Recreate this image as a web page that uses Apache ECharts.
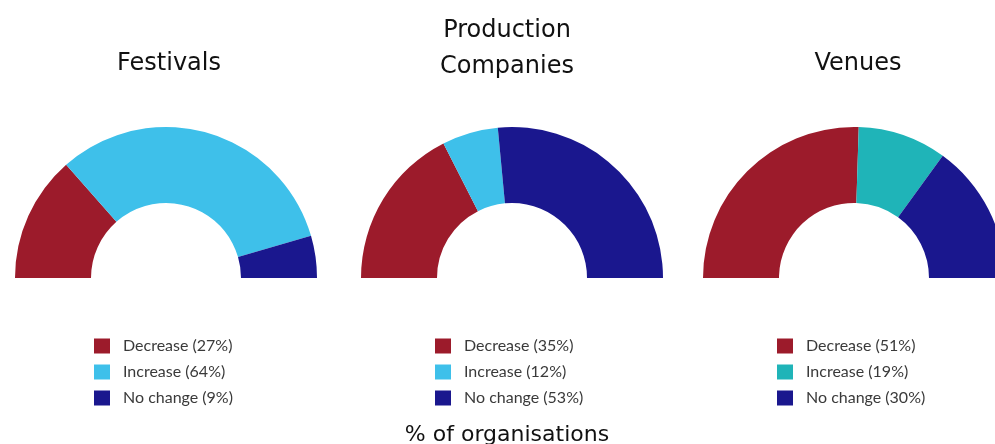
<!DOCTYPE html>
<html>
<head>
<meta charset="utf-8">
<script src="https://cdn.jsdelivr.net/npm/echarts@6/dist/echarts.min.js"></script>
<style>
  html, body { margin: 0; padding: 0; background: #ffffff; }
  #chart { width: 995px; height: 444px; }
</style>
</head>
<body>
<div id="chart"></div>
<script>
// Survey: share of organisations reporting a change, by organisation type
const categories = ['Decrease', 'Increase', 'No change'];
const festivals = [27, 64, 9];
const productionCompanies = [35, 12, 53];
const venues = [51, 19, 30];
const panelTitles = ['Festivals', 'Production\nCompanies', 'Venues'];
const footnote = '% of organisations';

const RED = '#9c1b2b';
const SKY = '#3ec0ea';
const TEAL = '#1fb4b8';
const NAVY = '#1a178e';

const panels = [
  { values: festivals, colors: [RED, SKY, NAVY], cx: 166, legendLeft: 89, titleX: 164, titleTop: 41 },
  { values: productionCompanies, colors: [RED, SKY, NAVY], cx: 512, legendLeft: 430, titleX: 502, titleTop: 8 },
  { values: venues, colors: [RED, TEAL, NAVY], cx: 854, legendLeft: 772, titleX: 853, titleTop: 41 }
];

const names = (vals) => categories.map((c, i) => c + ' (' + vals[i] + '%)');

const chart = echarts.init(document.getElementById('chart'));

const option = {
  backgroundColor: '#ffffff',
  animation: false,
  title: panels.map((p, i) => ({
    text: panelTitles[i],
    left: p.titleX,
    top: p.titleTop,
    textAlign: 'center',
    textStyle: {
      fontFamily: 'DejaVu Sans',
      fontSize: 24,
      fontWeight: 'normal',
      color: '#111111',
      lineHeight: 36
    }
  })).concat([{
    text: footnote,
    left: 502,
    top: 419,
    textAlign: 'center',
    textStyle: {
      fontFamily: 'DejaVu Sans',
      fontSize: 22,
      fontWeight: 'normal',
      color: '#111111'
    }
  }]),
  legend: panels.map((p, i) => ({
    orient: 'vertical',
    left: p.legendLeft,
    top: 333,
    itemWidth: 16,
    itemHeight: 15,
    itemGap: 10,
    icon: 'rect',
    selectedMode: false,
    data: names(p.values),
    textStyle: {
      fontFamily: 'Lato',
      fontSize: 16,
      lineHeight: 15,
      color: '#3a3a3a',
      padding: [0, 0, 0, 8]
    }
  })),
  series: panels.map((p, i) => ({
    type: 'pie',
    center: [p.cx, 278],
    radius: [75, 151],
    startAngle: 180,
    endAngle: 0,
    clockwise: true,
    silent: true,
    label: { show: false },
    labelLine: { show: false },
    itemStyle: { borderWidth: 0 },
    data: p.values.map((v, k) => ({
      name: names(p.values)[k],
      value: v,
      itemStyle: { color: p.colors[k] }
    }))
  }))
};

chart.setOption(option);
</script>
</body>
</html>
